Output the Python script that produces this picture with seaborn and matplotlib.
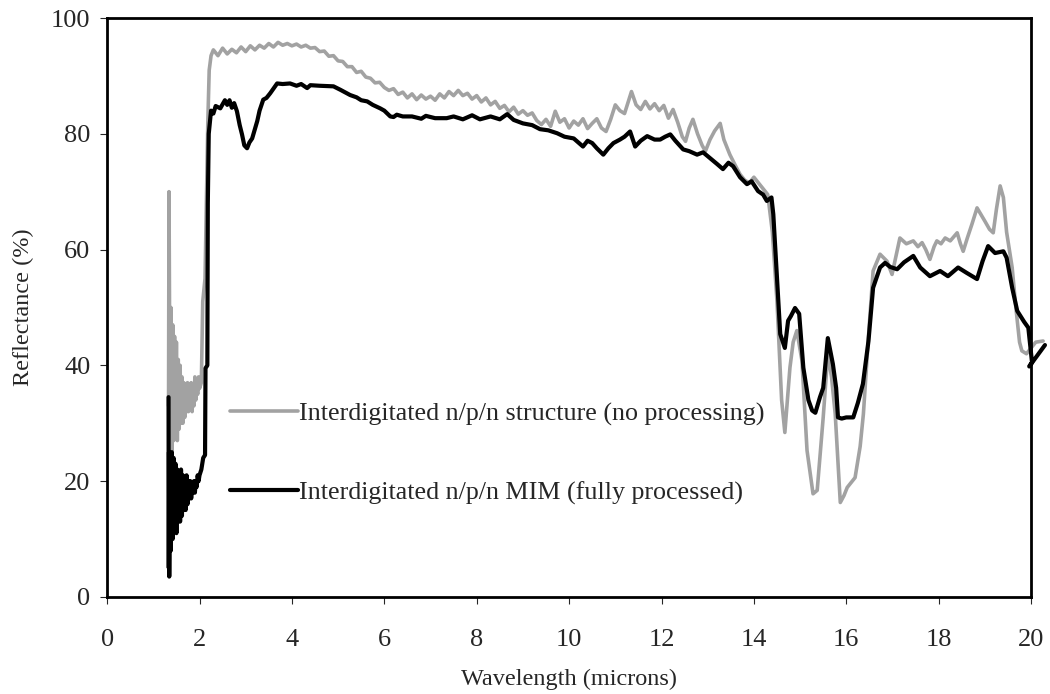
import matplotlib
matplotlib.use("Agg")
import matplotlib.pyplot as plt
import seaborn as sns
from matplotlib.lines import Line2D

# gray curve: interdigitated n/p/n structure, no processing
gray_x = [1.33, 1.34, 1.35, 1.36, 1.38, 1.40, 1.42, 1.44, 1.46, 1.48, 1.50, 1.52, 1.54, 1.56, 1.58,
          1.60, 1.62, 1.64, 1.66, 1.68, 1.70, 1.72, 1.74, 1.76, 1.78, 1.80, 1.82, 1.84, 1.86, 1.88,
          1.90, 1.92, 1.94, 1.96, 1.98, 2.00, 2.04, 2.07, 2.12, 2.15, 2.18, 2.21, 2.25,
          2.3, 2.4, 2.5, 2.6, 2.7, 2.8, 2.9, 3.0, 3.1, 3.2, 3.3, 3.4, 3.5, 3.6, 3.7, 3.8, 3.9,
          4.0, 4.1, 4.2, 4.3, 4.4, 4.5, 4.6, 4.7, 4.8, 4.9, 5.0, 5.1, 5.2, 5.3, 5.4, 5.5, 5.6,
          5.7, 5.8, 5.9, 6.0, 6.1, 6.2, 6.3, 6.4, 6.5, 6.6, 6.7, 6.8, 6.9, 7.0, 7.1, 7.2, 7.3,
          7.4, 7.5, 7.6, 7.7, 7.8, 7.9, 8.0, 8.1, 8.2, 8.3, 8.4, 8.5, 8.6, 8.7, 8.8, 8.9, 9.0,
          9.1, 9.2, 9.3, 9.4, 9.5, 9.6, 9.7, 9.8, 9.9, 10.0, 10.1, 10.2, 10.3, 10.4, 10.5, 10.6,
          10.7, 10.8, 10.9, 11.0, 11.1, 11.2, 11.3, 11.35, 11.45, 11.55, 11.65, 11.75, 11.85,
          11.95, 12.05, 12.15, 12.25, 12.35, 12.45, 12.52, 12.6, 12.68, 12.78, 12.88, 12.95,
          13.05, 13.15, 13.27, 13.35, 13.48, 13.6, 13.7, 13.8, 13.9, 14.0, 14.1, 14.2, 14.3,
          14.4, 14.5, 14.6, 14.67, 14.78, 14.85, 14.93, 15.04, 15.15, 15.28, 15.37, 15.5, 15.6,
          15.68, 15.76, 15.87, 15.95, 16.02, 16.19, 16.3, 16.37, 16.48, 16.58, 16.73, 16.88,
          16.99, 17.08, 17.16, 17.3, 17.45, 17.55, 17.64, 17.72, 17.81, 17.9, 17.96, 18.05,
          18.14, 18.25, 18.4, 18.47, 18.53, 18.62, 18.72, 18.83, 18.92, 19.0, 19.1, 19.18,
          19.25, 19.33, 19.4, 19.47, 19.53, 19.59, 19.67, 19.75, 19.8, 19.9, 20.0, 20.1, 20.26]
gray_y = [33, 70, 52, 26, 50, 25, 47, 27, 45, 28, 44, 27, 41, 29, 40,
          30, 38, 30, 37, 31, 36, 32, 37, 32, 35, 33, 37, 32, 36, 33,
          38, 34, 37, 35, 38, 36, 37, 51, 55, 68, 82, 91, 93.5,
          94.5, 93.5, 94.8, 93.8, 94.6, 94.0, 95.0, 94.2, 95.2, 94.5, 95.3, 94.8, 95.6, 95.0,
          95.8, 95.3, 95.6, 95.2, 95.5, 95.0, 95.3, 94.8, 94.9, 94.2, 94.3, 93.4, 93.5, 92.6,
          92.5, 91.6, 91.6, 90.6, 90.8, 89.8, 89.6, 88.8, 88.9, 88.0, 87.5, 87.8, 86.8, 87.2,
          86.2, 86.9, 85.9, 86.7, 86.0, 86.5, 85.8, 86.9, 86.2, 87.3, 86.6, 87.5, 86.6, 87.0,
          86.0, 86.6, 85.5, 86.2, 85.0, 85.6, 84.4, 84.9, 83.8, 84.6, 83.4, 84.0, 83.2, 83.6,
          82.3, 81.6, 82.5, 81.3, 83.9, 82.0, 82.6, 81.0, 82.2, 81.5, 82.6, 80.9, 81.8, 82.6,
          81.0, 80.4, 82.5, 85.0, 84.0, 83.5, 86.0, 87.3, 85.0, 84.2, 85.6, 84.3, 85.2,
          84.0, 84.9, 82.7, 84.2, 82.0, 79.5, 78.7, 81.0, 82.5, 80.0, 78.0, 77.0,
          79.0, 80.5, 81.8, 79.0, 76.4, 74.5, 73.0, 72.0, 71.5, 72.5, 71.5, 70.5, 69.5,
          63.0, 51.0, 34.0, 28.4, 39.6, 44.0, 46.0, 40.8, 25.3, 17.8, 18.4, 31.0, 42.0,
          38.0, 31.6, 16.3, 17.5, 18.9, 20.6, 26.0, 31.6, 45.0, 56.3, 59.2, 58.0,
          55.7, 59.0, 62.0, 61.0, 61.5, 60.5, 61.2, 60.0, 58.3, 60.5, 61.5, 61.0,
          62.0, 61.5, 62.9, 61.0, 59.7, 62.0, 64.4, 67.2, 66.0, 64.9, 63.5, 62.9,
          67.0, 71.0, 69.0, 63.0, 60.0, 56.9, 50.0, 44.0, 42.5, 42.0, 43.0, 44.0, 44.2]

# black curve: interdigitated n/p/n MIM, fully processed
black_x = [1.33, 1.335, 1.34, 1.345, 1.36, 1.38, 1.40, 1.42, 1.44, 1.46, 1.48, 1.50, 1.52, 1.54,
           1.56, 1.58, 1.60, 1.62, 1.64, 1.66, 1.68, 1.70, 1.72, 1.74, 1.76, 1.78, 1.80, 1.82,
           1.84, 1.86, 1.88, 1.90, 1.92, 1.94, 1.96, 1.98, 2.00, 2.04, 2.08, 2.12, 2.13, 2.17,
           2.18, 2.2, 2.25, 2.3, 2.35, 2.45, 2.55, 2.6, 2.65, 2.7, 2.75, 2.81, 2.87, 2.92, 2.97,
           3.03, 3.08, 3.14, 3.2, 3.25, 3.3, 3.38, 3.45, 3.53, 3.6, 3.68, 3.8, 3.96, 4.1, 4.2,
           4.33, 4.4, 4.6, 4.9, 5.05, 5.26, 5.4, 5.5, 5.63, 5.75, 5.91, 6.0, 6.13, 6.2, 6.27,
           6.4, 6.6, 6.8, 6.9, 7.1, 7.35, 7.5, 7.7, 7.9, 8.07, 8.3, 8.5, 8.66, 8.8, 9.0, 9.2,
           9.37, 9.55, 9.74, 9.9, 10.1, 10.3, 10.4, 10.5, 10.6, 10.74, 10.85, 10.96, 11.1, 11.2,
           11.32, 11.43, 11.55, 11.69, 11.85, 11.97, 12.08, 12.19, 12.3, 12.47, 12.6, 12.77,
           12.9, 13.05, 13.2, 13.33, 13.45, 13.55, 13.7, 13.85, 13.95, 14.09, 14.2, 14.28,
           14.38, 14.42, 14.5, 14.57, 14.67, 14.74, 14.8, 14.89, 14.98, 15.07, 15.18, 15.26,
           15.33, 15.43, 15.5, 15.6, 15.71, 15.78, 15.82, 15.9, 16.0, 16.15, 16.25, 16.36,
           16.48, 16.58, 16.73, 16.84, 16.95, 17.1, 17.25, 17.45, 17.6, 17.81, 18.03, 18.2,
           18.42, 18.6, 18.83, 18.95, 19.07, 19.22, 19.4, 19.47, 19.59, 19.7, 19.85, 19.94,
           20.02, 19.96, 20.3]
black_y = [34.5, 5, 25, 3.5, 24, 8, 25, 10, 24, 12, 23, 11, 22, 13,
           21, 13, 22, 14, 21, 15, 20, 15, 21, 16, 20, 17, 20, 17,
           19, 18, 20, 18, 20, 19, 21, 20, 21, 22, 24, 24.5, 39.5, 40,
           68, 80, 84, 83.5, 84.8, 84.4, 85.8, 85.0, 85.8, 84.5, 85.3, 83.9, 81.5, 79.9, 78.0,
           77.5, 78.5, 79.2, 80.8, 82.2, 84.0, 85.9, 86.2, 87.0, 87.8, 88.7, 88.6, 88.7, 88.3, 88.6,
           87.9, 88.4, 88.3, 88.2, 87.6, 86.7, 86.3, 85.8, 85.6, 85.0, 84.4, 84.0, 83.0, 82.9, 83.3,
           83.0, 83.0, 82.6, 83.1, 82.7, 82.7, 83.0, 82.5, 83.2, 82.5, 83.0, 82.5, 83.4, 82.4, 81.8, 81.5,
           80.8, 80.6, 80.1, 79.5, 79.2, 77.8, 78.8, 78.4, 77.5, 76.4, 77.5, 78.4, 79.0, 79.5,
           80.4, 77.8, 78.8, 79.6, 79.0, 79.0, 79.5, 79.9, 78.8, 77.3, 77.0, 76.4,
           76.8, 75.8, 74.8, 73.9, 75.0, 74.4, 72.5, 71.3, 71.8, 70.1, 69.5, 68.4,
           69.0, 66.1, 55.0, 45.4, 43.0, 47.7, 48.5, 49.9, 48.9, 39.6, 34.0, 32.2,
           31.8, 34.5, 36.1, 44.7, 40.2, 36.1, 31.0, 30.8, 31.0, 31.0, 33.5, 36.8,
           44.2, 53.4, 56.9, 57.7, 57.0, 56.6, 57.8, 58.9, 56.9, 55.4, 56.3, 55.4,
           56.9, 56.0, 54.9, 58.0, 60.6, 59.4, 59.7, 58.6, 53.4, 49.4, 47.5, 46.5,
           40.5, 39.8, 43.5]

labels = ["Interdigitated n/p/n structure (no processing)",
          "Interdigitated n/p/n MIM (fully processed)"]

sns.set_style("ticks")
plt.rcParams["font.family"] = ["Liberation Serif", "DejaVu Serif"]

fig = plt.figure(figsize=(10.5, 6.94), dpi=100)
ax = fig.add_axes([0.102, 0.140, 0.880, 0.834])

sns.lineplot(x=gray_x, y=gray_y, sort=False, estimator=None, color="#a2a2a2", lw=2.6, ax=ax)
sns.lineplot(x=black_x, y=black_y, sort=False, estimator=None, color="black", lw=3, ax=ax)
for ln in ax.get_lines():
    ln.set_clip_on(False)

ax.set_xlim(0, 20)
ax.set_ylim(0, 100)
ax.set_xticks(range(0, 21, 2))
ax.set_yticks(range(0, 101, 20))
ax.tick_params(labelsize=19, length=5, width=0.8, direction="out")
ax.tick_params(axis="x", pad=18)
ax.tick_params(axis="y", pad=7)
for s in ax.spines.values():
    s.set_linewidth(2)
    s.set_color("black")

ax.set_xlabel("Wavelength (microns)", fontsize=17.5, labelpad=13)
ax.set_ylabel("Reflectance (%)", fontsize=17.5, labelpad=12)

handles = [Line2D([], [], color="#a2a2a2", lw=2.6), Line2D([], [], color="black", lw=3)]
ax.legend(handles, labels, loc="upper left", bbox_to_anchor=(0.133, 0.336), frameon=False,
          fontsize=18.7, handlelength=2.6, handletextpad=0.05, borderpad=0, borderaxespad=0,
          labelspacing=2.12)

fig.savefig("out.png", dpi=100)
